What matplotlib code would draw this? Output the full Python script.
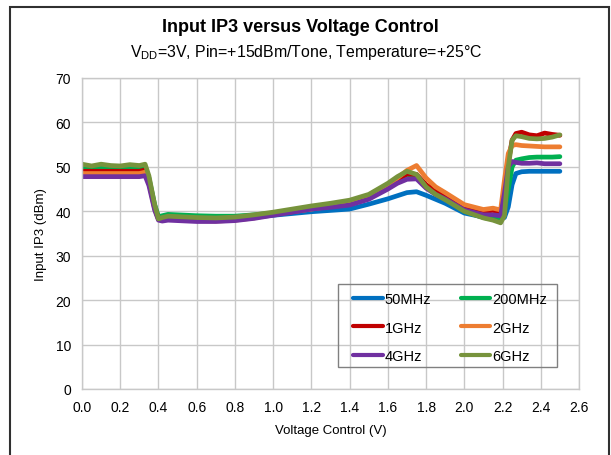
import matplotlib
matplotlib.use("Agg")
import matplotlib.pyplot as plt
from matplotlib.patches import Rectangle

plt.rcParams['font.family'] = ['Liberation Sans', 'DejaVu Sans']
plt.rcParams['mathtext.fontset'] = 'custom'
plt.rcParams['mathtext.rm'] = 'Liberation Sans'

voltage = [0.00, 0.05, 0.10, 0.15, 0.20, 0.25, 0.30, 0.33, 0.35, 0.38,
           0.40, 0.42, 0.45, 0.50, 0.60, 0.70, 0.80, 0.90, 1.00, 1.10,
           1.20, 1.30, 1.40, 1.50, 1.60, 1.65, 1.70, 1.75, 1.80, 1.85,
           1.90, 2.00, 2.10, 2.15, 2.19, 2.21, 2.23, 2.25, 2.27, 2.30,
           2.34, 2.38, 2.42, 2.46, 2.50]

ip3_50mhz = [49.5, 49.6, 49.5, 49.5, 49.6, 49.5, 49.5, 49.6, 47.0, 41.0,
             38.5, 38.3, 38.6, 38.5, 38.3, 38.2, 38.4, 38.7, 39.1, 39.5,
             39.9, 40.2, 40.5, 41.6, 42.8, 43.5, 44.2, 44.4, 43.6, 42.7,
             41.8, 39.6, 38.7, 38.5, 38.3, 38.6, 41.0, 46.0, 48.5, 48.9,
             49.0, 49.0, 49.0, 49.0, 49.0]
ip3_200mhz = [49.8, 49.9, 49.8, 49.8, 49.9, 49.8, 49.8, 50.0, 47.5, 41.5,
              38.8, 39.0, 39.3, 39.2, 39.0, 38.9, 38.9, 39.2, 39.6, 40.2,
              40.8, 41.3, 42.0, 43.5, 45.5, 47.0, 48.3, 48.0, 45.5, 44.0,
              42.8, 40.0, 38.6, 38.2, 38.0, 40.0, 45.0, 50.0, 51.5, 51.8,
              52.1, 52.2, 52.2, 52.2, 52.3]
ip3_1ghz = [49.0, 49.0, 49.0, 49.0, 49.0, 49.0, 49.0, 49.3, 46.8, 40.8,
            38.3, 38.1, 38.3, 38.2, 38.0, 37.9, 38.1, 38.6, 39.3, 39.9,
            40.6, 41.2, 41.9, 43.2, 45.8, 47.2, 48.4, 48.3, 46.0, 44.5,
            43.5, 41.0, 40.0, 40.2, 39.8, 43.0, 51.0, 56.0, 57.5, 57.8,
            57.2, 57.0, 57.6, 57.3, 57.1]
ip3_2ghz = [48.5, 48.5, 48.5, 48.5, 48.5, 48.5, 48.5, 48.8, 46.5, 40.6,
            38.2, 38.0, 38.2, 38.1, 37.9, 37.8, 38.0, 38.5, 39.3, 39.9,
            40.5, 41.1, 41.8, 43.2, 45.8, 47.5, 49.2, 50.3, 47.5, 45.5,
            44.2, 41.5, 40.4, 40.7, 40.3, 47.0, 53.0, 54.8, 55.0, 54.8,
            54.7, 54.6, 54.5, 54.5, 54.5]
ip3_4ghz = [47.8, 47.8, 47.8, 47.8, 47.8, 47.8, 47.8, 48.0, 45.8, 40.3,
            38.0, 37.8, 38.0, 37.9, 37.7, 37.7, 37.9, 38.4, 39.1, 39.8,
            40.5, 40.9, 41.4, 42.7, 45.0, 46.3, 47.2, 47.3, 45.2, 43.8,
            42.8, 40.3, 39.2, 39.2, 39.0, 44.0, 50.0, 51.2, 51.0, 50.8,
            50.8, 50.9, 50.7, 50.7, 50.7]
ip3_6ghz = [50.6, 50.2, 50.6, 50.3, 50.2, 50.5, 50.3, 50.6, 48.0, 41.5,
            38.3, 38.6, 38.9, 38.8, 38.6, 38.5, 38.7, 39.2, 39.8, 40.5,
            41.2, 41.8, 42.5, 43.8, 46.3, 47.8, 49.0, 48.3, 45.5, 43.8,
            42.6, 40.0, 38.5, 38.0, 37.4, 39.0, 50.0, 56.0, 57.0, 56.8,
            56.4, 56.3, 56.4, 56.7, 57.2]

series = [
    ("50MHz", ip3_50mhz, "#0070C0"),
    ("200MHz", ip3_200mhz, "#00B050"),
    ("1GHz", ip3_1ghz, "#C00000"),
    ("2GHz", ip3_2ghz, "#ED7D31"),
    ("4GHz", ip3_4ghz, "#7030A0"),
    ("6GHz", ip3_6ghz, "#77933C"),
]

x_ticks = [0.0, 0.2, 0.4, 0.6, 0.8, 1.0, 1.2, 1.4, 1.6, 1.8, 2.0, 2.2, 2.4, 2.6]
y_ticks = [0, 10, 20, 30, 40, 50, 60, 70]

W, H = 611, 456
L, R, T, B = 82, 579, 79, 390
fig = plt.figure(figsize=(W / 100, H / 100), dpi=100)
ax = fig.add_axes([L / W, 1 - B / H, (R - L) / W, (B - T) / H])

handles = {}
for name, vals, col in series:
    h, = ax.plot(voltage, vals, color=col, lw=3.4, label=name,
                 solid_capstyle='round', solid_joinstyle='round')
    handles[name] = h

ax.set_xlim(0, 2.6)
ax.set_ylim(0, 70)
ax.set_xticks(x_ticks)
ax.set_xticklabels([f"{t:.1f}" for t in x_ticks])
ax.set_yticks(y_ticks)
ax.grid(True, color="#c8c8c8", lw=1.0)
ax.set_axisbelow(True)
for s in ax.spines.values():
    s.set_color("#c8c8c8")
    s.set_linewidth(1.0)
ax.tick_params(length=0, labelsize=10, colors="#000000")
ax.tick_params(axis='x', pad=8)
ax.tick_params(axis='y', pad=8)
ax.set_xlabel("Voltage Control (V)", fontsize=9.5, labelpad=7)
ax.set_ylabel("Input IP3 (dBm)", fontsize=9.5, labelpad=6)


def ax_x(px):
    return (px - L) / (R - L)


def ax_y(py):
    return (B - py) / (B - T)


ax.add_patch(Rectangle((ax_x(338), ax_y(368)), ax_x(557) - ax_x(338),
                       ax_y(285) - ax_y(368), transform=ax.transAxes,
                       fill=False, edgecolor="#808080", lw=1.0, zorder=5))
order = ["50MHz", "1GHz", "4GHz", "200MHz", "2GHz", "6GHz"]
leg = ax.legend([handles[n] for n in order], order,
                loc="upper left", bbox_to_anchor=(ax_x(349), ax_y(289)),
                ncol=2, fontsize=10.5, frameon=False, handlelength=2.0,
                handletextpad=0.15, labelspacing=0.97, borderpad=0.3,
                columnspacing=2.0, borderaxespad=0)
for l in leg.get_lines():
    l.set_linewidth(3.0)

fig.text(300 / W, 1 - 28 / H, "Input IP3 versus Voltage Control",
         ha="center", va="center", fontsize=13, fontweight="bold")
fig.text(306 / W, 1 - 52 / H,
         r"V$_{\mathrm{DD}}$=3V, Pin=+15dBm/Tone, Temperature=+25°C",
         ha="center", va="center", fontsize=11.4)

fig.patches.append(Rectangle((10 / W, -0.05), 599 / W, 1.05 - 8 / H,
                             transform=fig.transFigure, fill=False,
                             edgecolor="#303030", lw=1.5))

fig.savefig("out.png", dpi=100)
